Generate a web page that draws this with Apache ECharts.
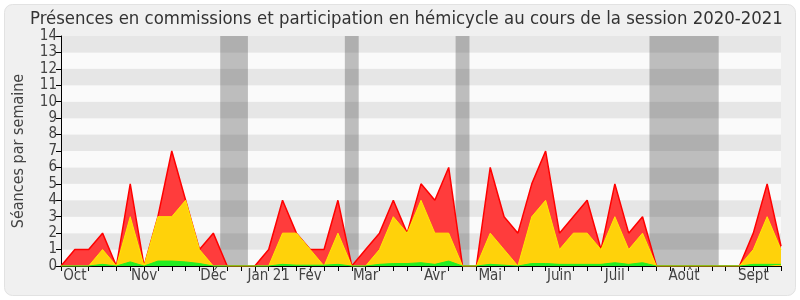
<!DOCTYPE html>
<html>
<head>
<meta charset="utf-8">
<script src="https://cdn.jsdelivr.net/npm/echarts@6/dist/echarts.min.js"></script>
<style>
html,body{margin:0;padding:0;background:#ffffff;}
#c{width:800px;height:300px;}
</style>
</head>
<body>
<div id="c"></div>
<script>
// Weekly index 0..52 (session 2020-2021)
const weeks = Array.from({length: 53}, (_, i) => i);
const monthLabels = {1:'Oct',6:'Nov',11:'Déc',15:'Jan 21',18:'Fév',22:'Mar',27:'Avr',31:'Mai',36:'Juin',40:'Juil',45:'Août',50:'Sept'};
const redValues = [0,1,1,2,0,5,0,3,7,4,1,2,0,0, 0,1,4,2,1,1,4,0, 1,2,4,2,5,4,6,0, 0,6,3,2,5,7,2,3,4,1,5,2,3,0, 0,0,0,0,0,0,2,5,1.2];
const yellowValues = [0,0,0,1,0,3,0,3,3,4,1,0,0,0, 0,0,2,2,1,0,2,0, 0,1,3,2,4,2,2,0, 0,2,1,0,3,4,1,2,2,1,3,1,2,0, 0,0,0,0,0,0,1,3,1];
const greenValues = [0,0,0,0.1,0,0.25,0,0.3,0.3,0.25,0.15,0,0,0, 0,0,0.1,0.05,0.05,0.05,0.1,0, 0,0.1,0.15,0.15,0.2,0.1,0.3,0, 0,0.1,0.05,0,0.15,0.15,0.1,0.1,0.1,0.1,0.2,0.1,0.2,0, 0,0,0,0,0,0,0.1,0.1,0.1];
const holidays = [[11.5,13.5],[20.5,21.5],[28.5,29.5],[42.5,47.5]];
const yTicks = [0,1,2,3,4,5,6,7,8,9,10,11,12,13,14];

const chart = echarts.init(document.getElementById('c'), null, {renderer:'canvas'});
const font = '"DejaVu Sans Condensed", "DejaVu Sans"';
const pair = arr => weeks.map(i => [i, arr[i]]);
chart.setOption({
  animation: false,
  backgroundColor: '#ffffff',
  textStyle: {fontFamily: font},
  graphic: [{
    type: 'rect', z: -10, silent: true,
    shape: {x: 4.5, y: 4.5, width: 791, height: 291, r: 8},
    style: {fill: '#f0f0f0', stroke: '#e2e2e2', lineWidth: 1}
  }],
  title: {
    text: 'Présences en commissions et participation en hémicycle au cours de la session 2020-2021',
    left: 25, top: 5,
    textStyle: {fontFamily: font, fontSize: 18.4, fontWeight: 'normal', color: '#333'}
  },
  grid: {left: 61, right: 19, top: 36, bottom: 34},
  xAxis: {
    type: 'value', min: 0, max: 52, interval: 1,
    axisLine: {show: true, lineStyle: {color: '#000', width: 1}},
    axisTick: {show: true, length: 5, lineStyle: {color: '#000'}},
    axisLabel: {
      fontFamily: font, fontSize: 15, color: '#444', margin: 3,
      formatter: v => monthLabels[v] || '', showMinLabel: true, showMaxLabel: true,
      hideOverlap: false
    },
    splitLine: {show: false}
  },
  yAxis: {
    type: 'value', min: 0, max: 14, interval: 1,
    name: 'Séances par semaine', nameLocation: 'middle', nameGap: 34,
    nameTextStyle: {fontFamily: font, fontSize: 16, color: '#444'},
    axisLine: {show: true, lineStyle: {color: '#000', width: 1}},
    axisTick: {show: true, length: 5, lineStyle: {color: '#000'}},
    axisLabel: {fontFamily: font, fontSize: 15, color: '#444', margin: 4,
      formatter: v => yTicks.includes(v) ? String(v) : ''},
    splitLine: {show: false},
    splitArea: {show: true, areaStyle: {color: ['#fafafa', '#e6e6e6']}}
  },
  series: [
    {
      type: 'line', data: [], z: 1, silent: true,
      markArea: {
        silent: true,
        itemStyle: {color: 'rgba(50,50,50,0.3)'},
        data: holidays.map(h => [{xAxis: h[0]}, {xAxis: h[1]}])
      }
    },
    {
      type: 'line', data: pair(redValues), z: 2, symbol: 'none',
      lineStyle: {color: '#ff0000', width: 1.5},
      areaStyle: {color: '#ff3c3c', opacity: 1}
    },
    {
      type: 'line', data: pair(yellowValues), z: 3, symbol: 'none',
      lineStyle: {color: '#ffea00', width: 1},
      areaStyle: {color: '#ffd20a', opacity: 1}
    },
    {
      type: 'line', data: pair(greenValues), z: 4, symbol: 'none',
      lineStyle: {color: '#22ee22', width: 1},
      areaStyle: {color: '#22ee22', opacity: 1}
    }
  ]
});
</script>
</body>
</html>
